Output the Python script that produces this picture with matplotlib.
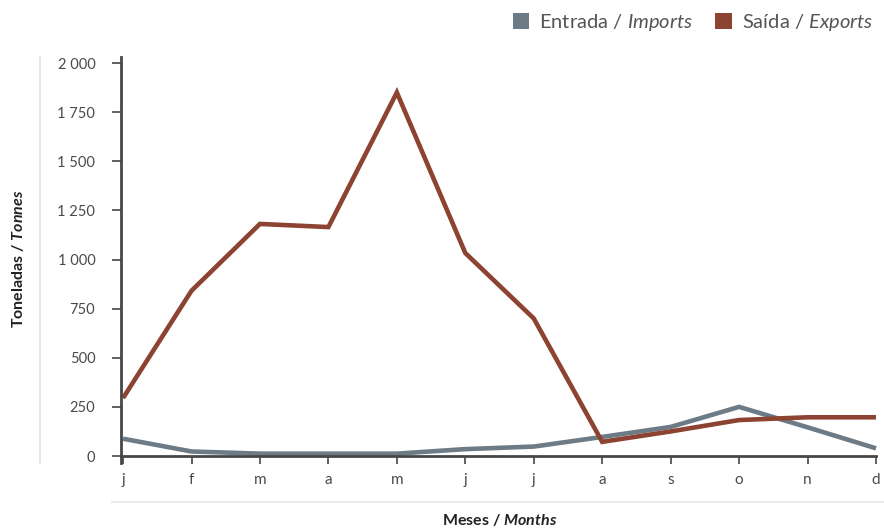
import matplotlib
matplotlib.use("Agg")
import matplotlib.pyplot as plt
from matplotlib.lines import Line2D
from matplotlib.patches import Patch
from matplotlib.ticker import FuncFormatter

plt.rcParams["font.family"] = ["Lato", "DejaVu Sans"]
plt.rcParams["mathtext.fontset"] = "custom"
plt.rcParams["mathtext.rm"] = "Lato"
plt.rcParams["mathtext.it"] = "Lato:italic"
plt.rcParams["mathtext.bf"] = "Lato:bold"
plt.rcParams["mathtext.bfit"] = "Lato:bold:italic"

months = ["j", "f", "m", "a", "m", "j", "j", "a", "s", "o", "n", "d"]
imports = [88, 23, 12, 12, 12, 35, 48, 97, 148, 250, 146, 39]
exports = [295, 841, 1181, 1165, 1850, 1033, 700, 72, 125, 183, 197, 197]
y_ticks = [0, 250, 500, 750, 1000, 1250, 1500, 1750, 2000]

c_imp = "#6c7b85"
c_exp = "#8c4331"
c_axis = "#474747"
c_text = "#4a4a4a"

fig = plt.figure(figsize=(8.84, 5.28), dpi=100)
ax = fig.add_axes([121 / 884, 72 / 528, 755 / 884, 393 / 528])

x = list(range(len(months)))
ax.plot(x, imports, color=c_imp, lw=3.3, solid_capstyle="butt", solid_joinstyle="miter", clip_on=False)
ax.plot(x, exports, color=c_exp, lw=3.3, solid_capstyle="butt", solid_joinstyle="miter", clip_on=False)

ax.set_xlim(-0.03, 11)
ax.set_ylim(0, 2000)
ax.set_xticks(x)
ax.set_xticklabels(months)
ax.set_yticks(y_ticks)
ax.yaxis.set_major_formatter(FuncFormatter(lambda v, p: f"{int(v):,}".replace(",", " ")))

for s in ["top", "right"]:
    ax.spines[s].set_visible(False)
for s in ["left", "bottom"]:
    ax.spines[s].set_color(c_axis)
    ax.spines[s].set_linewidth(2.0)
ax.spines["left"].set_bounds(-35, 2030)

ax.tick_params(axis="y", length=6.5, width=1.2, color=c_axis, pad=12, labelsize=10.5, labelcolor=c_text)
ax.tick_params(axis="x", length=6, width=1.2, color=c_axis, pad=6, labelsize=11, labelcolor=c_text)

fig.text(18 / 884, 1 - 259 / 528, r"Toneladas / $\mathbfit{Tonnes}$", rotation=90,
         ha="center", va="center", fontsize=11.5, fontweight="bold", color="#222222")
fig.text(500 / 884, 1 - 520 / 528, r"Meses / $\mathbfit{Months}$",
         ha="center", va="center", fontsize=11.5, fontweight="bold", color="#222222")

# decorative separators
fig.add_artist(Line2D([40 / 884, 40 / 884], [1 - 57 / 528, 1 - 463 / 528],
                      color="#e9e9e9", lw=1.5, transform=fig.transFigure))
fig.add_artist(Line2D([112 / 884, 884 / 884], [1 - 502 / 528, 1 - 502 / 528],
                      color="#e9e9e9", lw=1.5, transform=fig.transFigure))

handles = [Patch(facecolor=c_imp, edgecolor="none"), Patch(facecolor=c_exp, edgecolor="none")]
labels = [r"Entrada / $\mathit{Imports}$", r"Saída / $\mathit{Exports}$"]
leg = fig.legend(handles, labels, loc="upper right", bbox_to_anchor=(881 / 884, 1 - 4 / 528),
                 ncol=2, frameon=False, fontsize=14.5, handlelength=0.8, handleheight=0.8,
                 handletextpad=0.5, columnspacing=1.1, borderaxespad=0)
for t in leg.get_texts():
    t.set_color("#555555")

fig.savefig("out.png", dpi=100)
